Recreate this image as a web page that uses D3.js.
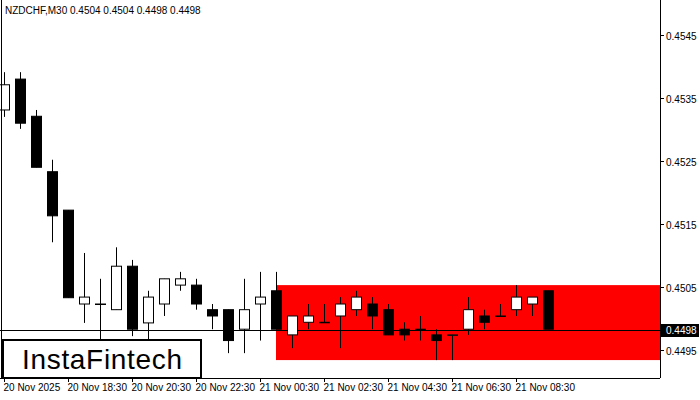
<!DOCTYPE html><html><head><meta charset="utf-8">
<script src="https://cdn.jsdelivr.net/npm/d3@7"></script>
<style>body{margin:0;background:#fff}svg{display:block}</style></head><body>
<svg id="c" width="700" height="400"></svg>
<script>
const opens  = [0.45331,0.45380,0.45321,0.45233,0.45172,0.45023,0.45023,0.45014,0.45083,0.44993,0.45023,0.45053,0.45053,0.45014,0.45014,0.44983,0.45023,0.45044,0.44974,0.44994,0.44994,0.45004,0.45014,0.45023,0.45014,0.44983,0.44983,0.44974,0.44974,0.44983,0.45004,0.45004,0.45014,0.45023,0.45044];
const highs  = [0.45391,0.45391,0.45331,0.45252,0.45172,0.45104,0.45063,0.45113,0.45093,0.45044,0.45063,0.45074,0.45063,0.45023,0.45014,0.45063,0.45074,0.45074,0.45004,0.45023,0.45023,0.45034,0.45044,0.45034,0.45023,0.44994,0.45004,0.44983,0.44974,0.45034,0.45014,0.45023,0.45053,0.45034,0.45044];
const lows   = [0.45320,0.45301,0.45240,0.45121,0.45033,0.44993,0.44965,0.45014,0.44972,0.44965,0.45004,0.45044,0.45014,0.44983,0.44945,0.44945,0.44965,0.44983,0.44953,0.44983,0.44994,0.44953,0.45004,0.44983,0.44974,0.44965,0.44965,0.44934,0.44934,0.44974,0.44983,0.45004,0.45004,0.45004,0.44983];
const closes = [0.45371,0.45310,0.45240,0.45163,0.45033,0.45034,0.45023,0.45083,0.44983,0.45034,0.45063,0.45063,0.45023,0.45004,0.44965,0.45014,0.45034,0.44983,0.45004,0.45004,0.44994,0.45023,0.45034,0.45004,0.44974,0.44974,0.44983,0.44965,0.44974,0.45014,0.44994,0.45004,0.45034,0.45034,0.44983];
const priceTicks = [0.4545,0.4535,0.4525,0.4515,0.4505,0.4495];
const timeLabels = ["20 Nov 2025","20 Nov 18:30","20 Nov 20:30","20 Nov 22:30","21 Nov 00:30","21 Nov 02:30","21 Nov 04:30","21 Nov 06:30","21 Nov 08:30"];
const zoneTop = 0.45053, zoneBottom = 0.44934, zoneStart = 17;
const lastPrice = 0.4498;

const svg = d3.select("#c");
const W=660, H=378;
const y = d3.scaleLinear().domain([0.4545,0.4495]).range([35,350]);
const x = d3.scaleLinear().domain([0,1]).range([4,20]);
const font="Arial, 'Liberation Sans', sans-serif";

svg.append("rect").attr("x",x(zoneStart)).attr("y",y(zoneTop))
  .attr("width",W-x(zoneStart)).attr("height",y(zoneBottom)-y(zoneTop)).attr("fill","#ff0000");
svg.append("line").attr("x1",0).attr("x2",W).attr("y1",Math.round(y(lastPrice))-0.5).attr("y2",Math.round(y(lastPrice))-0.5).attr("stroke","#000");

const idx = d3.range(opens.length);
const g = svg.append("g");
g.selectAll("line.w").data(idx).join("line")
  .attr("x1",i=>Math.round(x(i))+0.5).attr("x2",i=>Math.round(x(i))+0.5)
  .attr("y1",i=>y(highs[i])).attr("y2",i=>y(lows[i])).attr("stroke","#000");
g.selectAll("rect.b").data(idx).join("rect")
  .attr("x",i=>Math.round(x(i))-4.5).attr("width",10)
  .attr("y",i=>y(Math.max(opens[i],closes[i])))
  .attr("height",i=>Math.max(0.5,Math.abs(y(opens[i])-y(closes[i]))))
  .attr("fill",i=>closes[i]>=opens[i]?"#fff":"#000").attr("stroke","#000");

svg.append("line").attr("x1",1.5).attr("x2",1.5).attr("y1",0).attr("y2",H).attr("stroke","#000");
svg.append("line").attr("x1",W+0.5).attr("x2",W+0.5).attr("y1",0).attr("y2",H).attr("stroke","#000");
svg.append("line").attr("x1",0).attr("x2",W).attr("y1",H+0.5).attr("y2",H+0.5).attr("stroke","#000");

priceTicks.forEach(p=>{
  const yy=Math.round(y(p))+0.5;
  svg.append("line").attr("x1",W).attr("x2",W+4).attr("y1",yy).attr("y2",yy).attr("stroke","#000");
  svg.append("text").attr("x",W+6).attr("y",yy+4).text(p.toFixed(4)).attr("font-family",font).attr("font-size",10);
});
const ly=Math.round(y(lastPrice))-1;
svg.append("rect").attr("x",W+1).attr("y",ly-6).attr("width",38).attr("height",13).attr("fill","#000");
svg.append("text").attr("x",W+6).attr("y",ly+4).text(lastPrice.toFixed(4)).attr("fill","#fff").attr("font-family",font).attr("font-size",10);

timeLabels.forEach((t,k)=>{
  const xx=Math.round(x(k*4))+0.5;
  svg.append("line").attr("x1",xx).attr("x2",xx).attr("y1",H).attr("y2",H+4).attr("stroke","#000");
  svg.append("text").attr("x",xx-1).attr("y",391).text(t).attr("font-family",font).attr("font-size",10);
});

svg.append("text").attr("x",5).attr("y",14).text("NZDCHF,M30  0.4504 0.4504 0.4498 0.4498").attr("font-family",font).attr("font-size",10);

svg.append("rect").attr("x",3).attr("y",340).attr("width",198).attr("height",38).attr("fill","#fff").attr("stroke","#000").attr("stroke-width",2);
svg.append("text").attr("x",102).attr("y",369).attr("text-anchor","middle").attr("textLength",160).text("InstaFintech").attr("font-family",font).attr("font-size",28);
</script></body></html>
